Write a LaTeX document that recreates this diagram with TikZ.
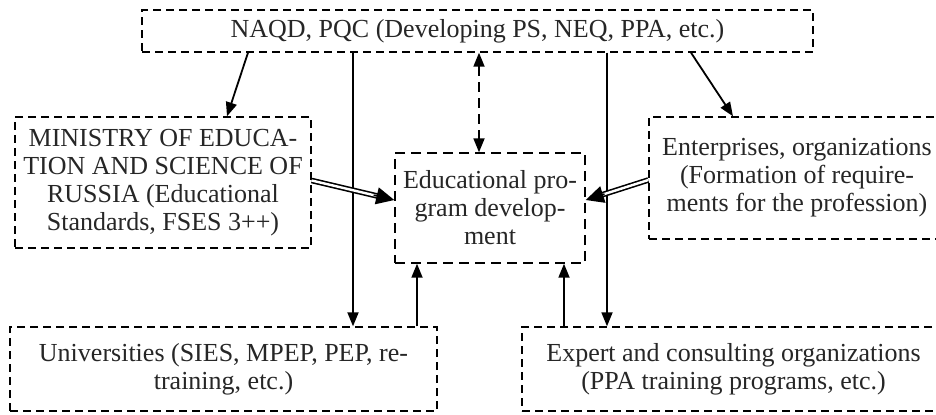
\documentclass[tikz,border=0pt]{standalone}
\usepackage{fontspec}
\setmainfont{Liberation Serif}
\usetikzlibrary{arrows.meta,calc,positioning}
\tikzstyle{block} = [draw, rectangle, dash pattern=on 4pt off 2.5pt, line width=0.7pt, align=center, inner sep=2pt]
\tikzstyle{link} = [line width=0.9pt, -{Triangle[length=7pt,width=5.5pt]}]
\tikzstyle{twin} = [double, double distance=1.2pt, line width=0.8pt, shorten >=7pt]
\tikzstyle{twintip} = [line width=0.8pt, -{Triangle[length=9pt,width=8.5pt]}]

\begin{document}
\begin{tikzpicture}[x=0.5pt, y=-0.5pt, font=\fontsize{13}{14}\selectfont, text=black!85]

\clip (0,0) rectangle (936,414);

\node [block, minimum width=335.5pt, minimum height=21pt] (naqd) at (477.5,31) {NAQD, PQC (Developing PS, NEQ, PPA, etc.)};
\node [block, minimum width=148pt, minimum height=65.5pt] (ministry) at (163,182.5) {MINISTRY OF EDUCA-\\TION AND SCIENCE OF\\RUSSIA (Educational\\Standards, FSES 3++)};
\node [block, minimum width=95pt, minimum height=55pt, dash pattern=on 5pt off 3pt] (develop) at (490,208) {Educational pro-\\gram develop-\\ment};
\node [block, minimum width=148pt, minimum height=61pt] (firms) at (797,178) {Enterprises, organizations\\(Formation of require-\\ments for the profession)};
\node [block, minimum width=213.5pt, minimum height=42pt] (univ) at (223.5,369) {Universities (SIES, MPEP, PEP, re-\\training, etc.)};
\node [block, minimum width=211.5pt, minimum height=42pt] (expert) at (733.5,369) {Expert and consulting organizations\\(PPA training programs, etc.)};

% from the top block
\draw [link] ([xshift=-114.75pt]naqd.south) -- ([xshift=32pt]ministry.north);
\draw [link] ([xshift=-62.25pt]naqd.south) -- ([xshift=64.75pt]univ.north);
\draw [link] ([xshift=64.75pt]naqd.south) -- ([xshift=-63.25pt]expert.north);
\draw [link] ([xshift=106.75pt]naqd.south) -- ([xshift=-32pt]firms.north);
\draw [line width=0.9pt, dash pattern=on 5pt off 3pt, {Triangle[length=7pt,width=5.5pt]}-{Triangle[length=7pt,width=5.5pt]}] ([xshift=0.75pt]naqd.south) -- ([xshift=-5.5pt]develop.north);

% into the development block
\coordinate (ms) at ([yshift=1pt]ministry.east);
\coordinate (mt) at ([yshift=4pt]develop.west);
\coordinate (fs) at ([yshift=-1pt]firms.west);
\coordinate (ft) at ([yshift=4pt]develop.east);
\draw [twin] (ms) -- (mt);
\draw [twintip] ($(ms)!0.75!(mt)$) -- (mt);
\draw [twin] (fs) -- (ft);
\draw [twintip] ($(fs)!0.7!(ft)$) -- (ft);
\draw [link] ([xshift=96.75pt]univ.north) -- ([xshift=-36.5pt]develop.south);
\draw [link] ([xshift=-84.75pt]expert.north) -- ([xshift=37pt]develop.south);

\end{tikzpicture}
\end{document}
